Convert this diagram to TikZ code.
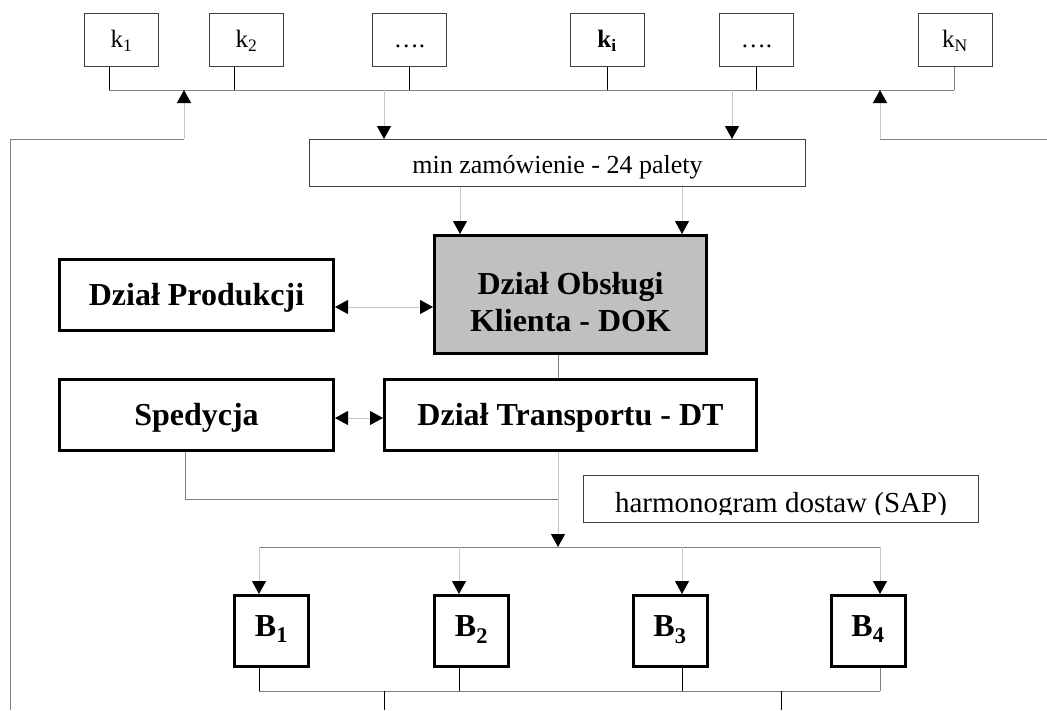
\documentclass[tikz,border=0pt]{standalone}
\usepackage{fontspec}
\setmainfont{Liberation Serif}
\usetikzlibrary{arrows.meta}
\definecolor{dokgray}{HTML}{C0C0C0}
\begin{document}
\begin{tikzpicture}[x=1pt,y=-1pt,
  kbox/.style={draw=black!75,line width=1pt,fill=white,minimum width=74pt,minimum height=53pt,inner sep=0pt,outer sep=0.5pt,font=\fontsize{25}{29}\selectfont,text height=15.5pt,text depth=0pt},
  thinbox/.style={draw=black!75,line width=1pt,fill=white,inner sep=0pt,outer sep=0.5pt},
  thickbox/.style={draw=black,line width=3pt,fill=white,inner sep=0pt,outer sep=1.5pt,font=\fontsize{32}{37}\selectfont\bfseries,align=center,text height=21.5pt,text depth=0pt},
  bus/.style={draw=black!50,line width=1pt},
  stub/.style={draw=black,line width=1pt},
  arr/.style={draw=black!22,line width=1pt,-{Triangle[width=14pt,length=13pt,color=black]}},
  darr/.style={draw=black!22,line width=1pt,{Triangle[width=14pt,length=13pt,color=black]}-{Triangle[width=14pt,length=13pt,color=black]}}]
\useasboundingbox (0,0) rectangle (1047,710);

% top boxes
\node[kbox] (k1) at (121.5,40) {k\textsubscript{1}};
\node[kbox] (k2) at (246.5,40) {k\textsubscript{2}};
\node[kbox] (kd1) at (409.5,40) {….};
\node[kbox] (ki) at (607,40) {\textbf{k\textsubscript{i}}};
\node[kbox] (kd2) at (756.5,40) {….};
\node[kbox] (kN) at (955,40) {k\textsubscript{N}};

% order box
\node[thinbox,minimum width=496pt,minimum height=47pt,font=\fontsize{26}{30}\selectfont,text height=20pt,text depth=0pt] (mn) at (557.5,163) {min zamówienie - 24 palety};

% main boxes
\node[thickbox,fill=dokgray,minimum width=272pt,minimum height=118pt,text height=73pt,text depth=0pt] (dok) at (570.5,294.5) {Dział Obsługi\\Klienta - DOK};
\node[thickbox,minimum width=274pt,minimum height=71pt] (prod) at (196.5,295) {Dział Produkcji};
\node[thickbox,minimum width=274pt,minimum height=71pt] (sped) at (196.5,415) {Spedycja};
\node[thickbox,minimum width=372pt,minimum height=71pt] (dt) at (570.5,415) {Dział Transportu - DT};

% harmonogram
\node[thinbox,minimum width=395pt,minimum height=47pt] (harm) at (781,499) {};
\begin{scope}
  \clip (583,475) rectangle (979,514);
  \node[anchor=base,inner sep=0pt,font=\fontsize{29}{33}\selectfont] (harmtext) at (781,512) {harmonogram dostaw (SAP)};
\end{scope}

% B boxes
\tikzset{bbox/.style={thickbox,minimum width=74pt,minimum height=71pt,text depth=10pt}}
\node[bbox] (b1) at (271.5,631) {B\textsubscript{1}};
\node[bbox] (b2) at (471.5,631) {B\textsubscript{2}};
\node[bbox] (b3) at (670,631) {B\textsubscript{3}};
\node[bbox] (b4) at (868,631) {B\textsubscript{4}};

% coordinates
\coordinate (tl) at (109,90);
\coordinate (tr) at (954,90);
\coordinate (s2) at (234,90);
\coordinate (u1) at (184,90);
\coordinate (u2) at (880,90);
\coordinate (d1) at (384,90);
\coordinate (d2) at (732,90);
\coordinate (lc) at (10,139);
\coordinate (lb) at (10,710);
\coordinate (rc) at (1047,139);
\coordinate (m1) at (460,187);
\coordinate (m2) at (682,187);
\coordinate (y307) at (0,307);
\coordinate (y418) at (0,418);
\coordinate (cx) at (558,0);
\coordinate (sj) at (185,499);
\coordinate (bj) at (558,547);
\coordinate (bl) at (259,547);
\coordinate (br) at (880,547);
\coordinate (bx2) at (459,547);
\coordinate (bx3) at (682,547);
\coordinate (ql) at (259,691);
\coordinate (qr) at (880,691);
\coordinate (q1) at (384,691);
\coordinate (q2) at (781,691);
\coordinate (e1) at (384,710);
\coordinate (e2) at (781,710);

% top bus
\draw[bus] (tl) -- (tr);
\draw[stub] (k1.south -| tl) -- (tl);
\draw[stub] (k2.south -| s2) -- (s2);
\draw[stub] (kd1.south) -- (kd1.south |- tl);
\draw[stub] (ki.south) -- (ki.south |- tl);
\draw[stub] (kd2.south) -- (kd2.south |- tl);
\draw[bus] (kN.south -| tr) -- (tr);

% feedback lines
\draw[bus] (lb) -- (lc) -- (lc -| u1);
\draw[arr] (lc -| u1) -- (u1);
\draw[bus] (rc) -- (rc -| u2);
\draw[arr] (rc -| u2) -- (u2);

% down to order box and DOK
\draw[arr] (d1) -- (mn.north -| d1);
\draw[arr] (d2) -- (mn.north -| d2);
\draw[arr] (m1) -- (dok.north -| m1);
\draw[arr] (m2) -- (dok.north -| m2);

% side exchanges
\draw[darr] (prod.east |- y307) -- (dok.west |- y307);
\draw[darr] (sped.east |- y418) -- (dt.west |- y418);

% DOK to DT and down
\draw[bus] (dok.south -| cx) -- (dt.north -| cx);
\draw[arr] (dt.south -| cx) -- (bj);
\draw[bus] (sped.south -| sj) -- (sj) -- (sj -| cx);

% lower bus
\draw[bus] (bl) -- (br);
\draw[arr] (bl) -- (b1.north -| bl);
\draw[arr] (bx2) -- (b2.north -| bx2);
\draw[arr] (bx3) -- (b3.north -| bx3);
\draw[arr] (br) -- (b4.north -| br);

% bottom bus
\draw[stub] (b1.south -| ql) -- (ql);
\draw[stub] (b2.south -| bx2) -- (bx2 |- ql);
\draw[stub] (b3.south -| bx3) -- (bx3 |- ql);
\draw[bus] (b4.south -| qr) -- (qr);
\draw[bus] (ql) -- (qr);
\draw[stub] (q1) -- (e1);
\draw[stub] (q2) -- (e2);
\end{tikzpicture}
\end{document}
